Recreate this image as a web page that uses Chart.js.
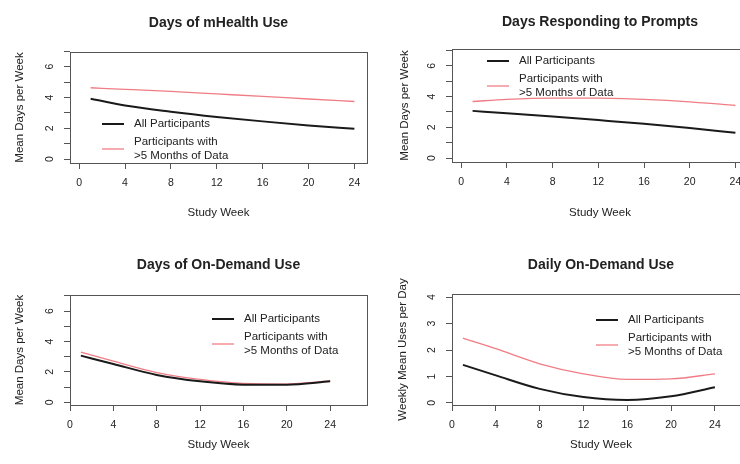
<!DOCTYPE html>
<html>
<head>
<meta charset="utf-8">
<script src="https://cdn.jsdelivr.net/npm/chart.js@4.4.1/dist/chart.umd.min.js"></script>
<style>
    html, body { margin: 0; padding: 0; background: #fff; width: 740px; height: 464px; overflow: hidden; }
    .panel { position: absolute; }
</style>
</head>
<body>
<div class="panel" style="left:0;top:0"><canvas id="mhealth" width="370" height="232"></canvas></div>
<div class="panel" style="left:370px;top:0"><canvas id="prompts" width="390" height="232"></canvas></div>
<div class="panel" style="left:0;top:232px"><canvas id="demand-days" width="370" height="232"></canvas></div>
<div class="panel" style="left:370px;top:232px"><canvas id="demand-daily" width="390" height="232"></canvas></div>
<script>

    // Data

    var weeks = [1, 4, 8, 12, 16, 20, 24];
    var weekTicks = [0, 4, 8, 12, 16, 20, 24];
    var seriesLabels = ['All Participants', 'Participants with\n>5 Months of Data'];

    var mhealthAll = [3.92, 3.48, 3.08, 2.74, 2.45, 2.19, 1.97];
    var mhealthLong = [4.63, 4.53, 4.39, 4.23, 4.07, 3.90, 3.74];

    var promptsAll = [3.07, 2.92, 2.70, 2.47, 2.23, 1.95, 1.64];
    var promptsLong = [3.68, 3.82, 3.90, 3.90, 3.82, 3.66, 3.42];

    var demandDaysAll = [3.07, 2.52, 1.80, 1.38, 1.16, 1.16, 1.38];
    var demandDaysLong = [3.30, 2.70, 1.95, 1.50, 1.24, 1.20, 1.40];

    var demandDailyAll = [1.44, 1.04, 0.53, 0.22, 0.11, 0.25, 0.59];
    var demandDailyLong = [2.45, 2.05, 1.48, 1.10, 0.89, 0.91, 1.10];

    var daysTicks = [0, 1, 2, 3, 4, 5, 6, 7];
    var daysLabels = [0, 2, 4, 6];
    var usesTicks = [0, 1, 2, 3, 4];
    var usesLabels = [0, 1, 2, 3, 4];


    // Methods

    var FONT = '"Liberation Sans", Arial, sans-serif';

    function toPoints(values) {
        return values.map(function (v, i) { return { x: weeks[i], y: v }; });
    }

    // R-style box, title, sideways y labels and a frameless legend
    function rPlot(p) {
        return {
            id: 'rPlot',
            afterDraw: function (chart) {
                var ctx = chart.ctx;
                var a = chart.chartArea;
                var y = chart.scales.y;

                ctx.save();
                ctx.strokeStyle = '#555';
                ctx.lineWidth = 1;
                ctx.strokeRect(Math.round(a.left) + 0.5, Math.round(a.top) + 0.5,
                    Math.round(a.right - a.left), Math.round(a.bottom - a.top));

                ctx.fillStyle = '#222';
                ctx.textBaseline = 'middle';
                ctx.textAlign = 'center';
                ctx.font = 'bold 14px ' + FONT;
                ctx.fillText(p.title, (a.left + a.right) / 2, p.titleY);

                ctx.font = '10.5px ' + FONT;
                p.yLabels.forEach(function (v) {
                    ctx.save();
                    ctx.translate(a.left - 20, y.getPixelForValue(v));
                    ctx.rotate(-Math.PI / 2);
                    ctx.fillText(String(v), 0, 0);
                    ctx.restore();
                });

                ctx.textAlign = 'left';
                ctx.font = '11.5px ' + FONT;
                var lx = a.left + p.legendX;
                var top = a.top + p.legendY;
                chart.data.datasets.forEach(function (ds, i) {
                    var lines = ds.label.split('\n');
                    var base = top + i * 18;
                    var mid = base + (lines.length - 1) * 7;
                    ctx.strokeStyle = ds.borderColor;
                    ctx.lineWidth = ds.borderWidth;
                    ctx.beginPath();
                    ctx.moveTo(lx, mid);
                    ctx.lineTo(lx + 22, mid);
                    ctx.stroke();
                    lines.forEach(function (t, k) {
                        ctx.fillText(t, lx + 32, base + k * 14);
                    });
                });
                ctx.restore();
            }
        };
    }

    function init(id, p) {
        return new Chart(document.getElementById(id), {
            type: 'line',
            data: {
                datasets: [{
                    label: seriesLabels[0],
                    data: toPoints(p.all),
                    borderColor: '#1a1a1a',
                    borderWidth: 2
                }, {
                    label: seriesLabels[1],
                    data: toPoints(p.long),
                    borderColor: '#f07d85',
                    borderWidth: 1.3
                }]
            },
            options: {
                responsive: false,
                animation: false,
                layout: { padding: { top: p.top, right: p.right, left: 0, bottom: 0 } },
                elements: {
                    point: { radius: 0 },
                    line: { cubicInterpolationMode: 'monotone' }
                },
                plugins: {
                    legend: { display: false },
                    tooltip: { enabled: false }
                },
                scales: {
                    x: {
                        type: 'linear',
                        min: p.xMin,
                        max: p.xMax,
                        afterBuildTicks: function (s) { s.ticks = weekTicks.map(function (v) { return { value: v }; }); },
                        afterFit: function (s) { s.height = p.xHeight; },
                        border: { display: false },
                        grid: { drawOnChartArea: false, tickLength: 6, color: '#555' },
                        ticks: { color: '#222', font: { family: FONT, size: 10.5 }, padding: 8, maxRotation: 0 },
                        title: {
                            display: true, text: 'Study Week', color: '#222',
                            font: { family: FONT, size: 11.5 }, padding: { top: 0, bottom: 12.5 }
                        }
                    },
                    y: {
                        min: p.yMin,
                        max: p.yMax,
                        afterBuildTicks: function (s) { s.ticks = p.yTicks.map(function (v) { return { value: v }; }); },
                        afterFit: function (s) { s.width = p.yWidth; },
                        border: { display: false },
                        grid: { drawOnChartArea: false, tickLength: 6, color: '#555' },
                        ticks: { display: false },
                        title: {
                            display: true, text: p.yTitle, color: '#222',
                            font: { family: FONT, size: 11.5 }, padding: { top: p.yTitlePad, bottom: 0 }
                        }
                    }
                }
            },
            plugins: [rPlot(p)]
        });
    }


    // Events

    init('mhealth', {
        title: 'Days of mHealth Use', titleY: 23,
        all: mhealthAll, long: mhealthLong,
        top: 52, right: 3, xHeight: 69, yWidth: 70,
        xMin: -0.8, xMax: 25.1, yMin: -0.25, yMax: 6.95,
        yTicks: daysTicks, yLabels: daysLabels,
        yTitle: 'Mean Days per Week', yTitlePad: 13,
        legendX: 32, legendY: 72
    });

    init('prompts', {
        title: 'Days Responding to Prompts', titleY: 22,
        all: promptsAll, long: promptsLong,
        top: 49, right: 12, xHeight: 70, yWidth: 82,
        xMin: -0.8, xMax: 25.1, yMin: -0.26, yMax: 7.1,
        yTicks: daysTicks, yLabels: daysLabels,
        yTitle: 'Mean Days per Week', yTitlePad: 28,
        legendX: 35, legendY: 12
    });

    init('demand-days', {
        title: 'Days of On-Demand Use', titleY: 33,
        all: demandDaysAll, long: demandDaysLong,
        top: 63, right: 3, xHeight: 59, yWidth: 70,
        xMin: 0, xMax: 27.4, yMin: -0.18, yMax: 7.06,
        yTicks: daysTicks, yLabels: daysLabels,
        yTitle: 'Mean Days per Week', yTitlePad: 13,
        legendX: 142, legendY: 24
    });

    init('demand-daily', {
        title: 'Daily On-Demand Use', titleY: 33,
        all: demandDailyAll, long: demandDailyLong,
        top: 62, right: 10, xHeight: 59, yWidth: 82,
        xMin: 0, xMax: 27.2, yMin: -0.08, yMax: 4.12,
        yTicks: usesTicks, yLabels: usesLabels,
        yTitle: 'Weekly Mean Uses per Day', yTitlePad: 26,
        legendX: 144, legendY: 26
    });

</script>
</body>
</html>
